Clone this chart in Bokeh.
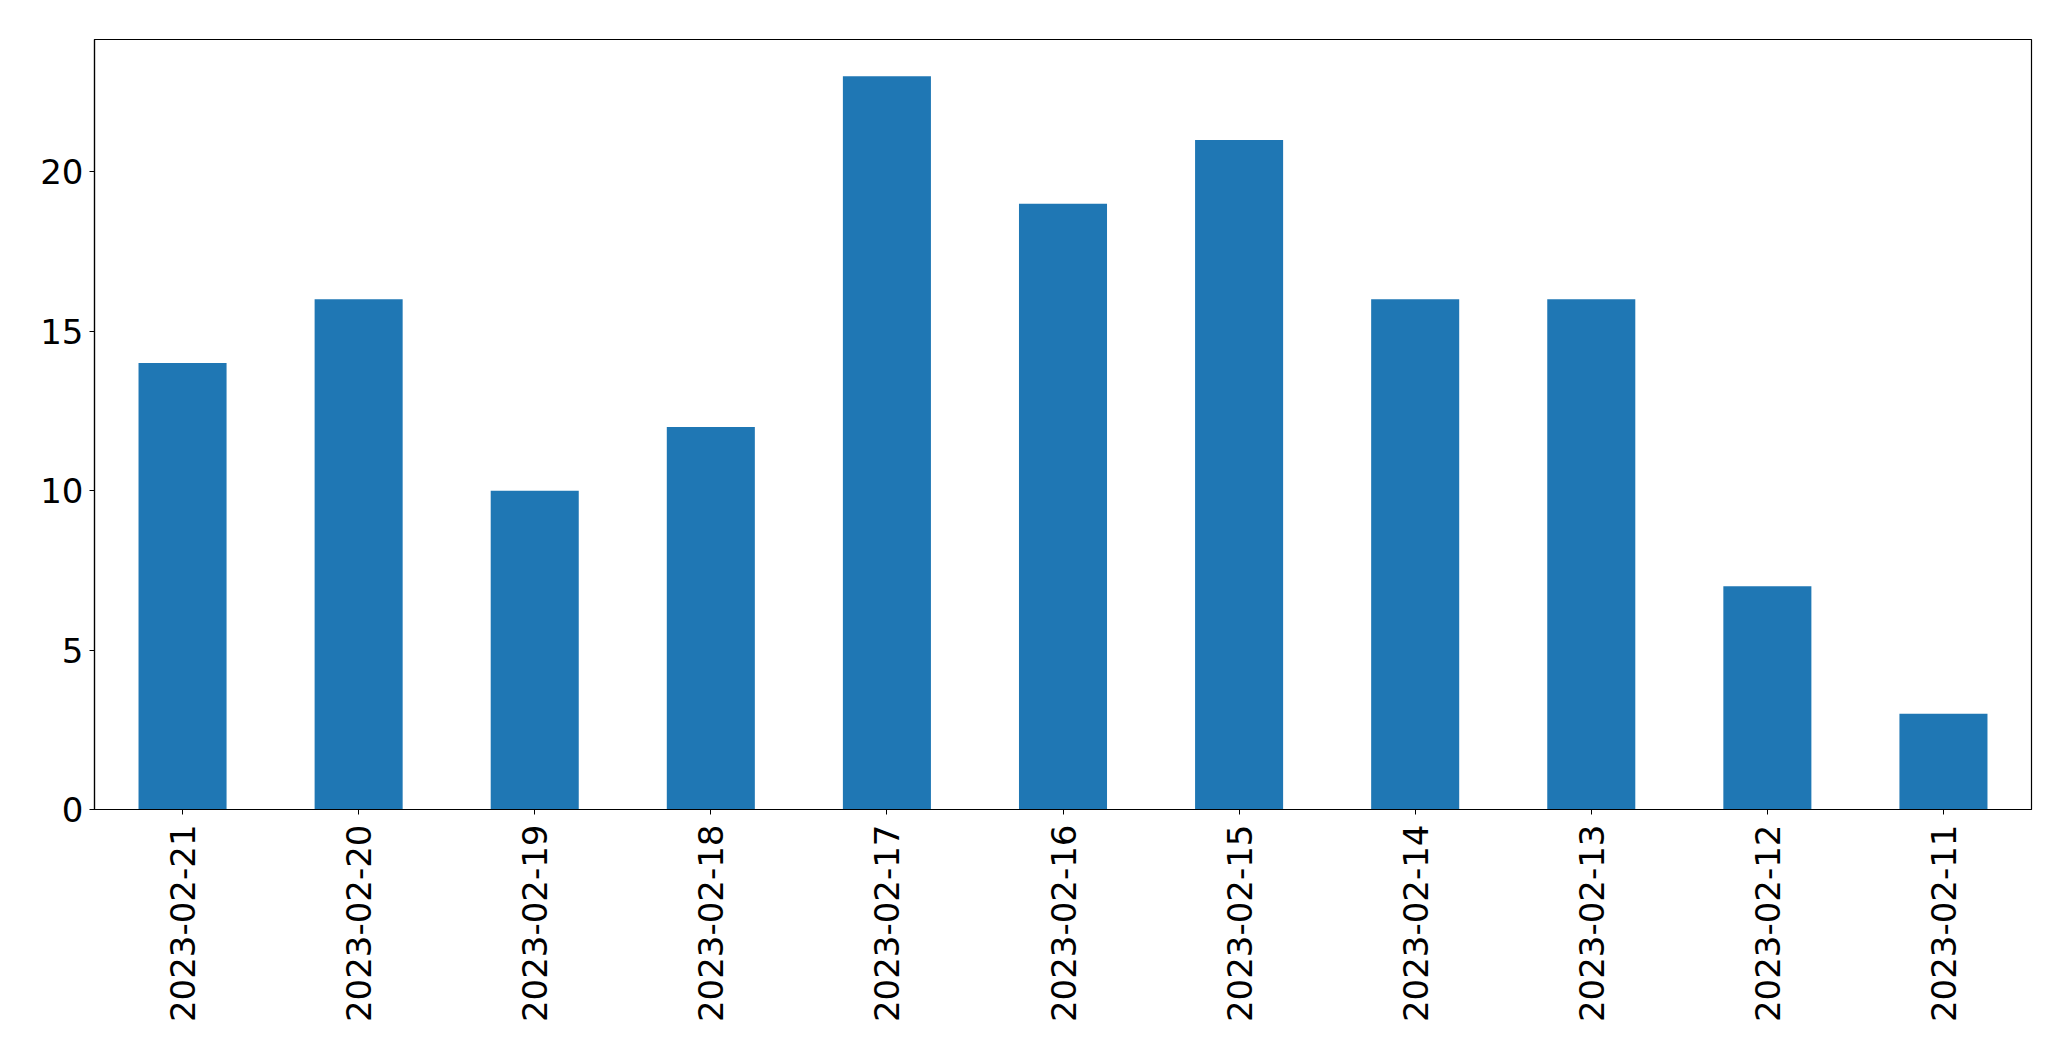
import math
from bokeh.plotting import figure
from bokeh.models import FactorRange, Range1d, FixedTicker, ColumnDataSource
from bokeh.embed import file_html
from bokeh.resources import INLINE

dates = ["2023-02-21", "2023-02-20", "2023-02-19", "2023-02-18", "2023-02-17",
         "2023-02-16", "2023-02-15", "2023-02-14", "2023-02-13", "2023-02-12", "2023-02-11"]
counts = [14, 16, 10, 12, 23, 19, 21, 16, 16, 7, 3]
y_ticks = [0, 5, 10, 15, 20]

src = ColumnDataSource(dict(x=dates, top=counts))

p = figure(width=2071, height=1061, output_backend="svg", toolbar_location=None,
           x_range=FactorRange(*dates), y_range=Range1d(0, max(counts) * 1.05),
           min_border_left=94, min_border_right=40, min_border_top=39, min_border_bottom=252)

p.vbar(x="x", top="top", width=0.5, source=src, color="#1f77b4", line_color=None)

p.xgrid.visible = False
p.ygrid.visible = False
p.outline_line_color = "black"
p.outline_line_width = 1.2
p.background_fill_color = "white"
p.border_fill_color = "white"

for ax in (p.xaxis[0], p.yaxis[0]):
    ax.major_label_text_font = "DejaVu Sans"
    ax.major_label_text_font_size = "34px"
    ax.major_label_text_color = "black"
    ax.axis_line_color = "black"
    ax.axis_line_width = 1.2
    ax.major_tick_line_color = "black"
    ax.major_tick_out = 5
    ax.major_tick_in = 0
    ax.minor_tick_line_color = None

p.yaxis[0].ticker = FixedTicker(ticks=y_ticks)
p.yaxis[0].major_label_standoff = 6
p.xaxis[0].major_label_orientation = math.pi / 2
p.xaxis[0].major_label_standoff = 10
p.xaxis[0].group_text_font_size = "0px"

open("out.html", "w").write(file_html(p, INLINE))
